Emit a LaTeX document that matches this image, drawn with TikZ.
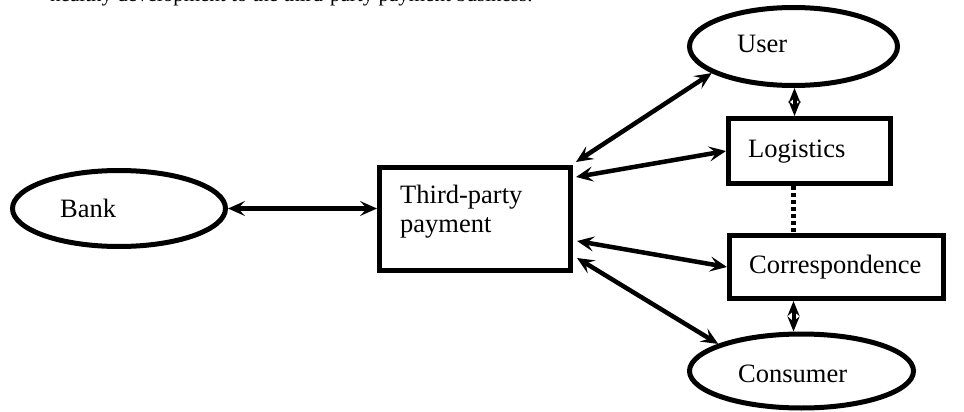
\documentclass[tikz,border=0pt]{standalone}
\usepackage{fontspec}
\setmainfont{Liberation Serif}
\usetikzlibrary{arrows.meta,shapes.geometric}
\begin{document}
\begin{tikzpicture}[x=1pt,y=-1pt,
  oval/.style={ellipse,draw,line width=5pt,inner sep=0pt},
  boxnode/.style={rectangle,draw,line width=5pt,inner sep=0pt},
  lbl/.style={anchor=base west,inner sep=0pt,font=\fontsize{26.5}{30}\selectfont},
  link/.style={line width=4.5pt,{Stealth[length=17pt,width=15pt,inset=7pt]}-{Stealth[length=17pt,width=15pt,inset=7pt]}},
  shortlink/.style={line width=4pt,{Stealth[length=15pt,width=12pt,inset=5pt]}-{Stealth[length=15pt,width=12pt,inset=5pt]}},
  dotline/.style={line width=5pt,dash pattern=on 4pt off 3pt}]
\useasboundingbox (0,0) rectangle (964,412);
\node[anchor=base west,inner sep=0pt,font=\fontsize{21}{24}\selectfont] (toptext) at (50,1.5) {healthy development to the third-party payment business.};
% shapes
\node[oval,minimum width=213pt,minimum height=76pt] (bank) at (119,208.5) {};
\node[boxnode,minimum width=191pt,minimum height=103pt] (third) at (475,219) {};
\node[oval,minimum width=208pt,minimum height=78pt] (user) at (793.5,46.5) {};
\node[boxnode,minimum width=162pt,minimum height=65pt] (logistics) at (809.5,151) {};
\node[boxnode,minimum width=214pt,minimum height=63pt] (corr) at (836.5,267) {};
\node[oval,minimum width=224pt,minimum height=74pt] (consumer) at (801.5,371) {};
% labels
\node[lbl] (tbank) at (60,217) {Bank};
\node[lbl] (tthird1) at (400,203) {Third-party};
\node[lbl] (tthird2) at (400,232) {payment};
\node[lbl] (tuser) at (737,53) {User};
\node[lbl] (tlog) at (748,157) {Logistics};
\node[lbl] (tcorr) at (749,273) {Correspondence};
\node[lbl] (tcons) at (738,382) {Consumer};
% connectors
\draw[link] (bank.east) -- (bank.east -| third.west);
\draw[link] ([xshift=3pt,yshift=3pt]third.north east) -- (user.198);
\draw[link] ([xshift=3pt,yshift=42pt]third.east) -- (logistics.west);
\draw[link] ([xshift=4pt,yshift=-22pt]third.east) -- (corr.west);
\draw[link] ([xshift=4pt,yshift=-39pt]third.east) -- (consumer.162);
\draw[shortlink] ([xshift=1pt]user.south) -- ([xshift=1pt]user.south |- logistics.north);
\draw[shortlink] (corr.south -| user.south) -- (consumer.north -| user.south);
\draw[dotline] (logistics.south -| user.south) -- (corr.north -| user.south);
\end{tikzpicture}
\end{document}
